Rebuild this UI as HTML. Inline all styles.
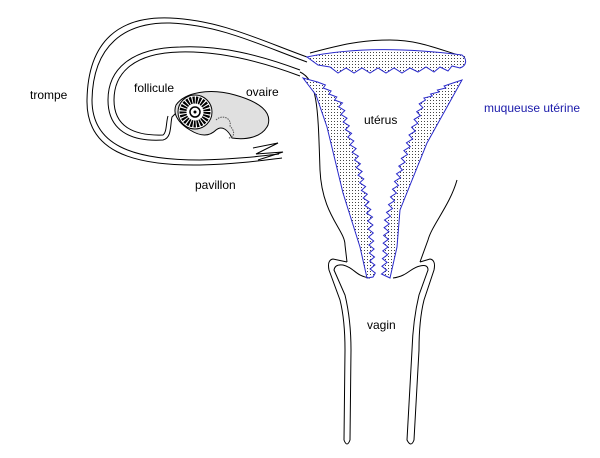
<!DOCTYPE html>
<html><head><meta charset="utf-8"><style>
body{margin:0;background:#fff}
svg{display:block}
text{font-family:"Liberation Sans",sans-serif;font-size:12px}
</style></head><body>
<svg id="s" width="600" height="458" viewBox="0 0 600 458" xmlns="http://www.w3.org/2000/svg">
<defs>
<pattern id="d" width="3" height="3" patternUnits="userSpaceOnUse"><rect width="3" height="3" fill="#fff"/><rect x="1" y="1" width="1" height="1" fill="#444"/></pattern>
</defs>
<g fill="none" stroke="#000" stroke-width="1">
<path d="M307,57 C260,40 220,20 170,18 C120,16 88,40 87,100 C86,150 130,166 200,165 C240,164 265,160 282,158"/>
<path d="M307,62 C260,45 220,25 170,23 C125,22 93,45 92,100 C92,145 132,160 200,160 C240,159 262,156 279,154"/>
<path d="M300,70 C260,55 220,45 180,47 C130,48 108,70 108,100 C108,130 130,142 163,140 C172,138 170,125 172,117 L176,113"/>
<path d="M300,76 C260,61 220,51 180,52 C135,53 114,72 114,100 C114,126 133,136 163,135 C167,132 166,122 168,116"/>
<path d="M253,148 L278,143 L256,154 L283,152 L258,160"/>
<path d="M300,72 C318,80 318,110 320,170 C322,215 345,230 345,245 L347,262"/>
<path d="M457,180 C450,205 432,225 428,240 L420,262"/>
<path d="M310,53 C340,45 360,40 390,40 C420,40 440,50 465,57"/>
<path d="M347,262 L333,259 Q327,260 329,270 L340,300 Q345,320 345,350 L344,440 Q347,448 350,440 L351,350 Q351,320 345,295 L334,270 Q335,264 343,265 C355,268 355,276 370,278"/>
<path d="M420,262 L430,259 Q436,260 434,270 L424,300 Q419,320 419,350 L414,440 Q411,448 407,440 L412,350 Q413,320 419,295 L428,270 Q428,264 420,266 C410,268 408,276 393,278"/>
</g>
<g fill="url(#d)" stroke="#2a2acc" stroke-width="1">
<path d="M307,57 C350,48 400,47 462,55 C468,60 466,66 460,68 L452,66 448,71 440,67 434,72 426,67 418,72 410,68 402,73 394,68 386,73 378,68 370,73 362,68 354,73 346,68 338,73 330,67 318,65 Z"/>
<path id="lb" d=""/>
<path id="rb" d=""/>
</g>
<path d="M176,105 C185,92 210,88 235,95 C260,102 272,112 268,125 C262,138 245,140 232,138 C228,130 222,125 216,130 C208,138 198,135 190,130 C180,124 172,115 176,105 Z" fill="#e0e0e0" stroke="#000"/>
<path d="M216,120 C222,114 232,118 230,126 C236,132 234,138 228,138" fill="none" stroke="#555" stroke-dasharray="1.5,1"/>
<circle cx="195" cy="112" r="17" fill="#fff" stroke="#000"/>
<circle cx="195" cy="112" r="12" fill="none" stroke="#000" stroke-width="7" stroke-dasharray="2,1"/>
<circle cx="195" cy="112" r="5" fill="#fff" stroke="#000" stroke-width="1.5"/>
<circle cx="195" cy="112" r="1.5" fill="#000"/>
<text x="30" y="99">trompe</text>
<text x="134" y="92">follicule</text>
<text x="246" y="96">ovaire</text>
<text x="195" y="189">pavillon</text>
<text x="364" y="124">utérus</text>
<text x="367" y="329">vagin</text>
<text x="484" y="112" fill="#1a1aaa">muqueuse utérine</text>
</svg>
<script>
function wavy(pts,amp,per){var out=[],k=0;for(var i=0;i<pts.length-1;i++){var a=pts[i],b=pts[i+1],dx=b[0]-a[0],dy=b[1]-a[1],L=Math.hypot(dx,dy),n=Math.max(1,Math.round(L/per*2));for(var j=0;j<n;j++){var t=j/n,s=(k++%2?1:-1)*amp;out.push([(a[0]+dx*t+s).toFixed(1),(a[1]+dy*t).toFixed(1)]);}}out.push(pts[pts.length-1]);return out;}
function P(a){return a.map(function(p){return p[0]+","+p[1]}).join(" L");}
var lo=[[367,278],[360,247],[343,193],[327,127],[316,95],[303,78]];
var li=wavy([[320,82],[340,103],[357,160],[370,217],[373,277]],2.5,8);
document.getElementById('lb').setAttribute('d',"M"+P(li)+" L"+P(lo)+" Z");
var ro=[[462,80],[427,143],[400,210],[397,247],[390,278]];
var ri=wavy([[384,274],[387,220],[400,170],[423,100],[450,84]],2.5,8);
document.getElementById('rb').setAttribute('d',"M"+P(ro)+" L"+P(ri)+" Z");
</script>
</body></html>
